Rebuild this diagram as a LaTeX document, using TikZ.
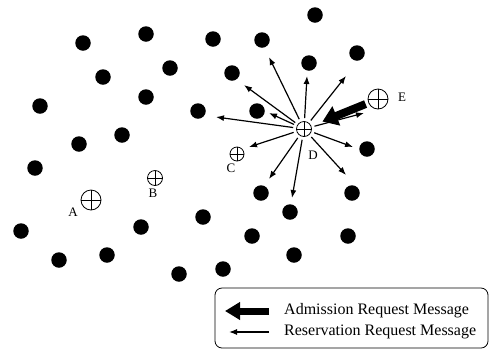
\documentclass[tikz,border=0pt]{standalone}
\usepackage{fontspec}
\setmainfont{Liberation Serif}
\usetikzlibrary{arrows.meta}

\begin{document}
\begin{tikzpicture}[
      x=1pt,y=-1pt,
      host/.style={
          circle,
          fill=black,
          inner sep=0pt,
          minimum size=15.5pt
        },
      router/.style={
          circle,
          draw,
          line width=0.8pt,
          inner sep=0pt,
          minimum size=#1,
          path picture={
              \draw[line width=0.6pt] (path picture bounding box.north) -- (path picture bounding box.south)
                (path picture bounding box.west) -- (path picture bounding box.east);
            }
        },
      tag/.style={
          font=\fontsize{13}{15}\selectfont,
          inner sep=0pt
        },
      reserve/.style={
          line width=1.2pt,
          -{Latex[length=8pt,width=6pt]}
        },
      admission/.style={
          line width=8pt,
          -{Triangle[length=15pt,width=20pt]}
        },
      keytext/.style={
          font=\fontsize{16}{19}\selectfont,
          anchor=west,
          inner sep=0pt
        }
    ]
    \useasboundingbox (0,0) rectangle (489,349);
    \foreach \hx/\hy [count=\hi] in {83/43,146/34,213/39,262/40,315/15,103/77,170/68,232/73,
        309/63,357/53,40/106,146/97,198/111,257/111,122/135,79/144,367/149,35/168,21/231,
        59/260,107/255,141/227,203/217,261/193,352/193,290/212,252/236,348/236,294/255,
        179/274,223/269}
    \node[host] (h\hi) at (\hx,\hy) {};
    \node[router=20pt] (A) at (91,200) {};
    \node[router=15pt] (B) at (155,178) {};
    \node[router=14pt] (C) at (237,154) {};
    \node[router=15pt] (D) at (304,129) {};
    \node[router=20pt] (E) at (378,99) {};
    \node[tag] (lA) at (73,212) {A};
    \node[tag] (lB) at (153,193) {B};
    \node[tag] (lC) at (231,168) {C};
    \node[tag] (lD) at (313,155) {D};
    \node[tag] (lE) at (402,97) {E};
    \foreach \rx/\ry [count=\ri] in {269/57,307/76,346/76,244/85,269/113,216/117,
        364/113,249/147,353/147,269/179,292/198,346/175}
      {\coordinate (r\ri) at (\rx,\ry);
        \draw[reserve,shorten <=3pt] (D) -- (r\ri);
      }
    \draw[admission,shorten <=3pt,shorten >=12pt] (E) -- (D);
    \draw[line width=0.8pt,rounded corners=7pt] (215,288) rectangle (488,348);
    \coordinate (k1) at (269,311);
    \coordinate (k1e) at (225,311);
    \coordinate (k2) at (269,332);
    \coordinate (k2e) at (229,332);
    \draw[admission,line width=7pt,-{Triangle[length=15pt,width=17pt]}] (k1) -- (k1e);
    \draw[reserve] (k2) -- (k2e);
    \node[keytext] (adm) at (284,311) {Admission Request Message};
    \node[keytext] (res) at (284,332) {Reservation Request Message};
  \end{tikzpicture}
\end{document}
